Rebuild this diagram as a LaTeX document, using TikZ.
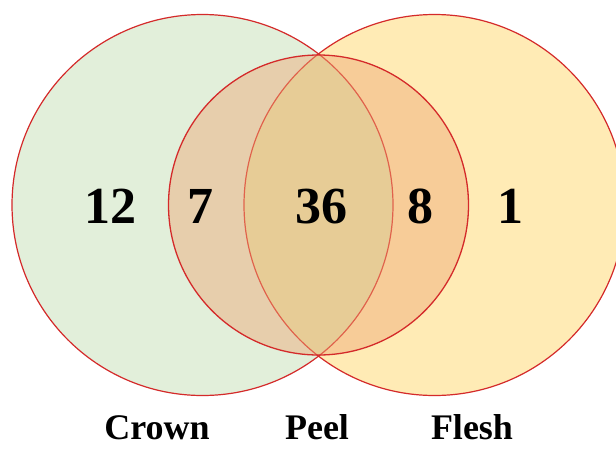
\documentclass[tikz,border=0pt]{standalone}
\usepackage{fontspec}
\setmainfont{Liberation Serif}
\definecolor{crowngreen}{HTML}{E2EFDA}
\definecolor{fleshyellow}{HTML}{FFEBB5}
\definecolor{lensbase}{HTML}{E2EAB2}
\definecolor{peelorange}{HTML}{EFA876}
\definecolor{rimred}{HTML}{D42A2A}
\begin{document}
\begin{tikzpicture}[x=1pt,y=-1pt]
\useasboundingbox (0,0) rectangle (616,448);
\coordinate (crown) at (202.5,205);
\coordinate (peel) at (318.5,205);
\coordinate (flesh) at (434.5,205);
\fill[crowngreen] (crown) circle (190.5pt);
\fill[fleshyellow] (flesh) circle (190.5pt);
\begin{scope}
\clip (crown) circle (190.5pt);
\fill[lensbase] (flesh) circle (190.5pt);
\end{scope}
\draw[rimred, line width=1.2pt] (crown) circle (190.5pt);
\draw[rimred, line width=1.2pt] (flesh) circle (190.5pt);
\fill[peelorange, fill opacity=0.45] (peel) circle (150pt);
\draw[rimred, line width=1.3pt] (peel) circle (150pt);
\node[anchor=base, font=\fontsize{52}{52}\selectfont\bfseries] (crownonly) at (110,223) {12};
\node[anchor=base, font=\fontsize{52}{52}\selectfont\bfseries] (crownpeel) at (200,223) {7};
\node[anchor=base, font=\fontsize{52}{52}\selectfont\bfseries] (allthree) at (321,223) {36};
\node[anchor=base, font=\fontsize{52}{52}\selectfont\bfseries] (peelflesh) at (420,223) {8};
\node[anchor=base, font=\fontsize{52}{52}\selectfont\bfseries] (fleshonly) at (510,223) {1};
\node[anchor=base, inner sep=0pt, font=\fontsize{36}{36}\selectfont\bfseries] (crownlabel) at (157,439) {Crown};
\node[anchor=base, inner sep=0pt, font=\fontsize{36}{36}\selectfont\bfseries] (peellabel) at (317,439) {Peel};
\node[anchor=base, inner sep=0pt, font=\fontsize{36}{36}\selectfont\bfseries] (fleshlabel) at (472,439) {Flesh};
\end{tikzpicture}
\end{document}
